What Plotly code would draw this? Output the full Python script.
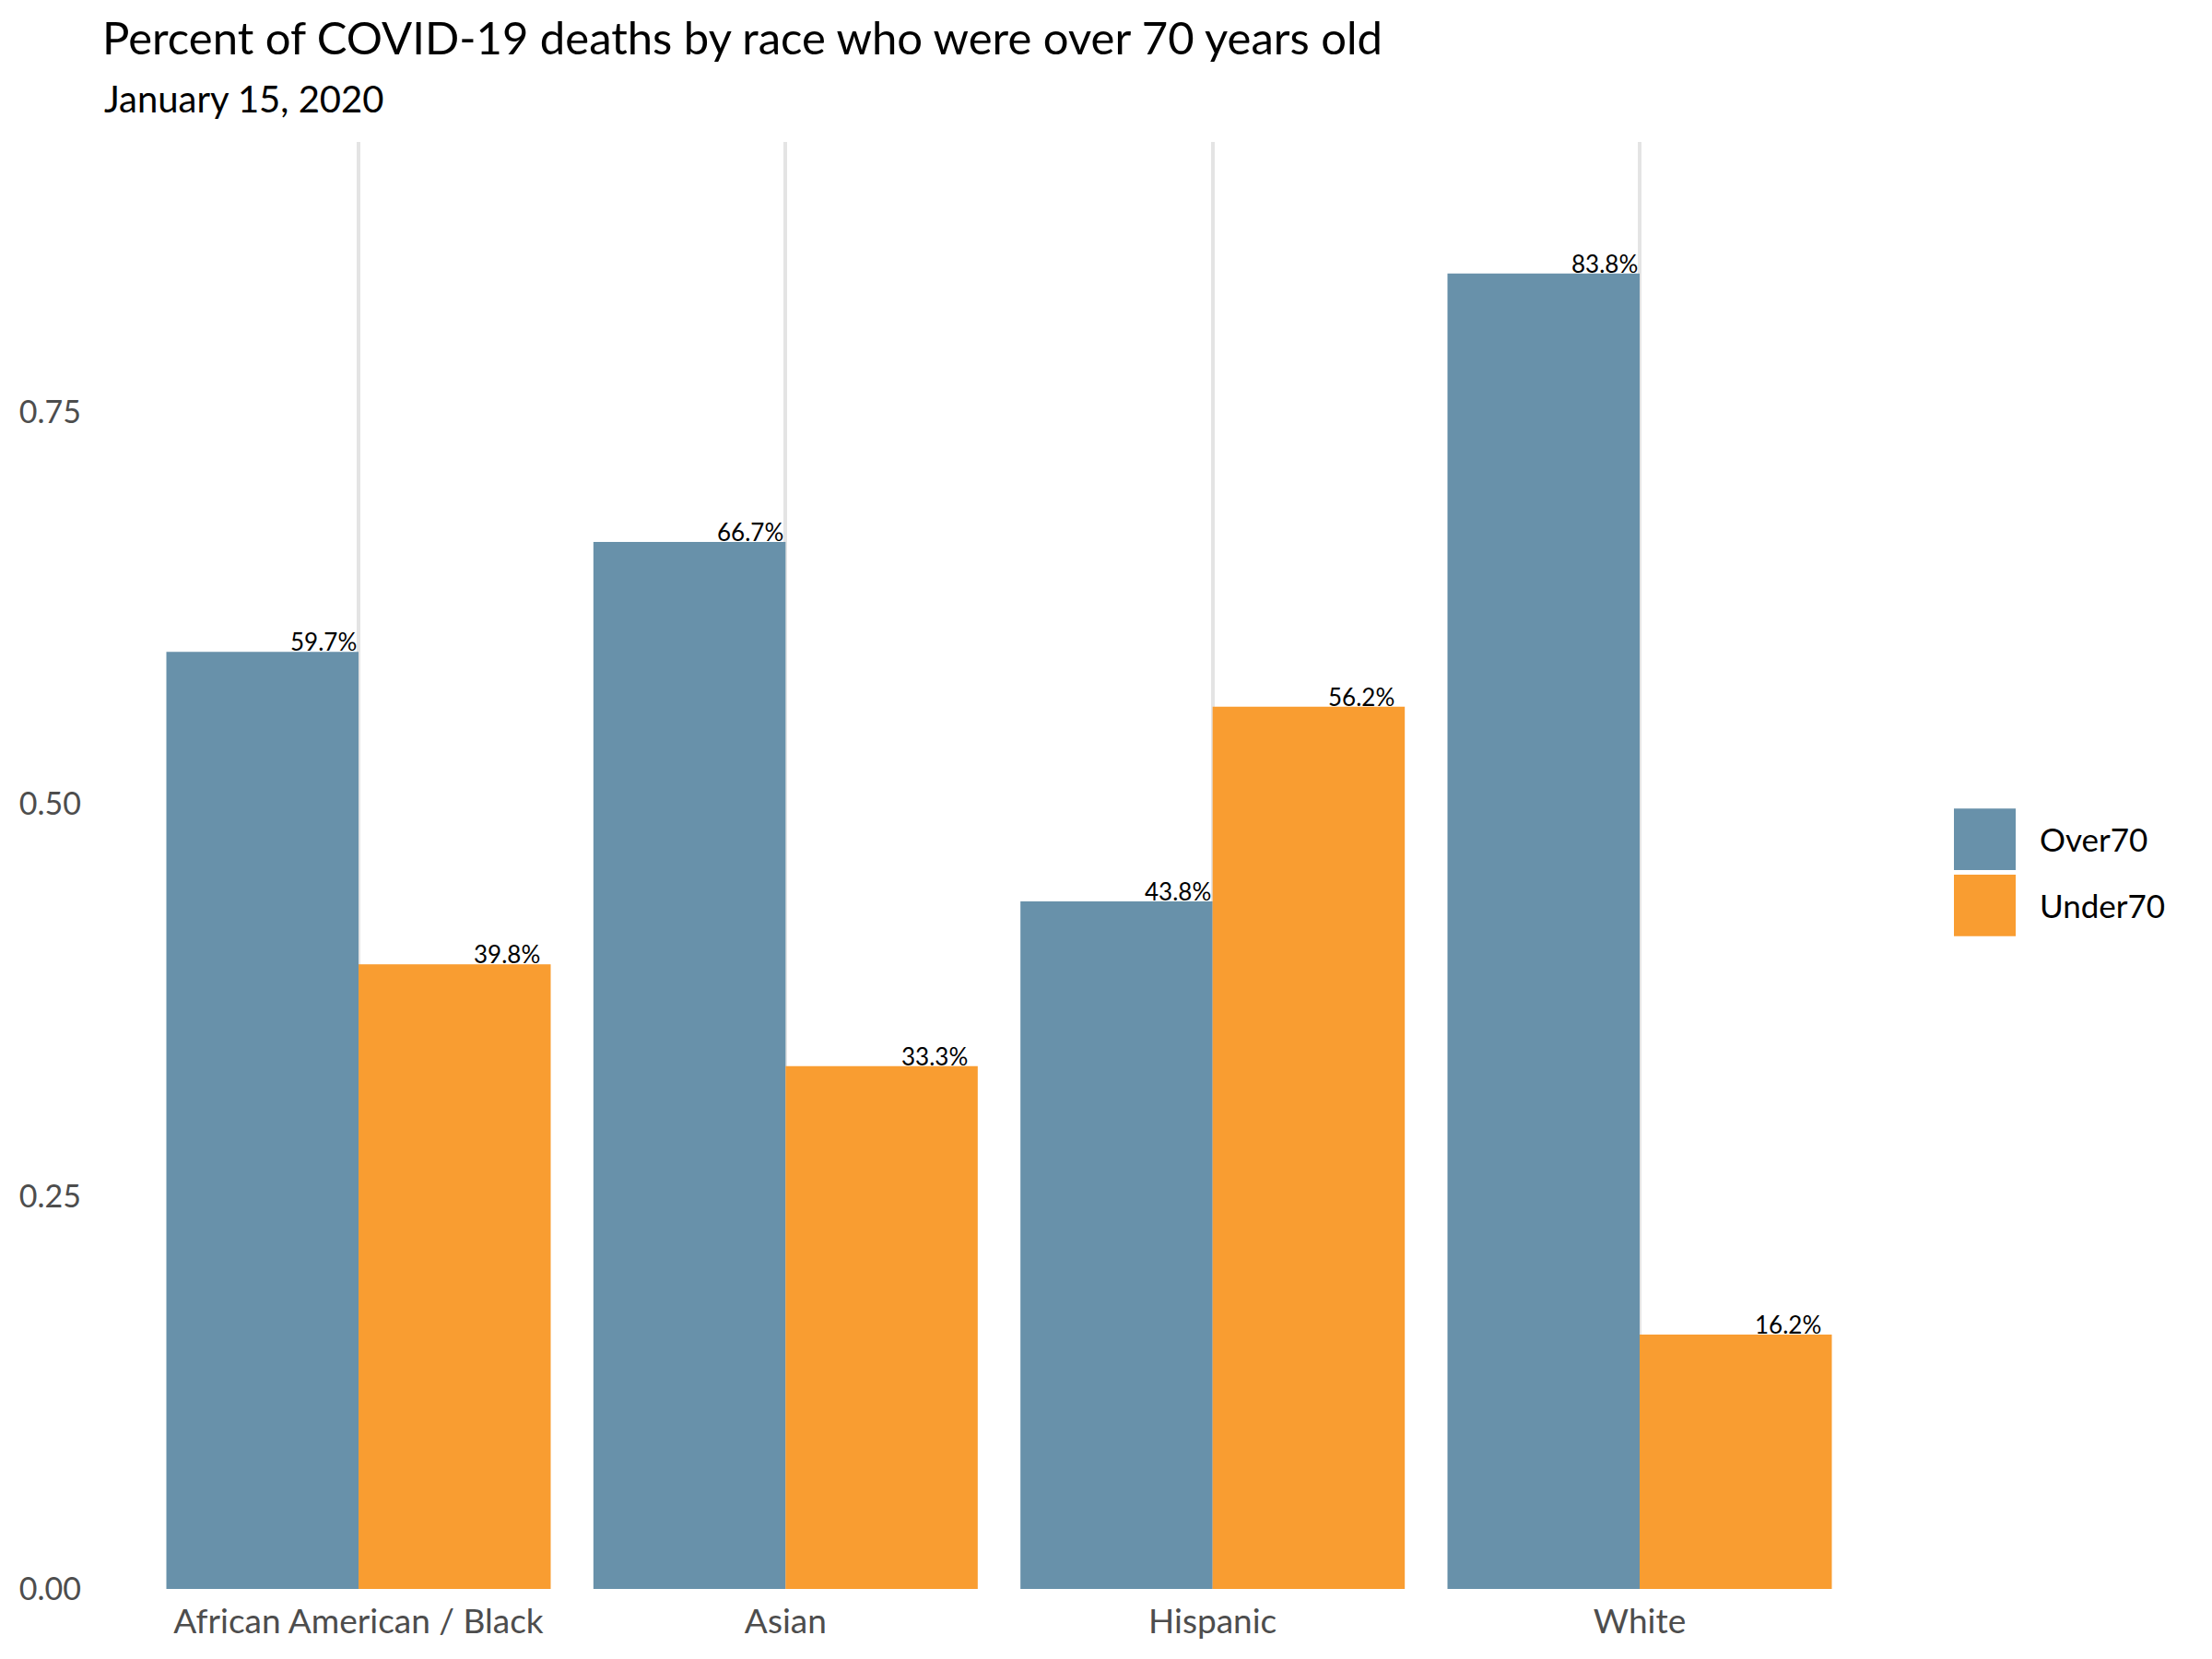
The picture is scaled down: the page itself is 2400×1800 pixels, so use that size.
import plotly.graph_objects as go

categories = ["African American / Black", "Asian", "Hispanic", "White"]
over70 = [0.597, 0.667, 0.438, 0.838]
under70 = [0.398, 0.333, 0.562, 0.162]
series_names = ["Over70", "Under70"]
series_colors = ["#6891AA", "#F99D31"]
y_ticks = [0.0, 0.25, 0.50, 0.75]

# page body has an 8px margin; figure coordinates are screen coordinates minus 8
OFF = 8
W, H = 2400 - 2 * OFF, 1800 - 2 * OFF
ML = 111 - OFF
MT = 154 - OFF
PLOT_R = 2057 - OFF
PLOT_B = 1730 - OFF
MR = W - PLOT_R
MB = H - PLOT_B
FONT = "Lato, Open Sans, sans-serif"

x_idx = list(range(len(categories)))
BAR_W = 0.45

fig = go.Figure()
fig.add_trace(go.Bar(x=x_idx, y=over70, name=series_names[0], width=BAR_W, offset=-BAR_W,
                     marker=dict(color=series_colors[0], line=dict(width=0)), hoverinfo="skip"))
fig.add_trace(go.Bar(x=x_idx, y=under70, name=series_names[1], width=BAR_W, offset=0,
                     marker=dict(color=series_colors[1], line=dict(width=0)), hoverinfo="skip"))

annotations = []
for i, v in enumerate(over70):
    annotations.append(dict(x=i, y=v, xref="x", yref="y", text=f"{v*100:.1f}%",
                            xanchor="right", yanchor="bottom", showarrow=False, yshift=-7,
                            font=dict(family=FONT, size=26, color="black")))
for i, v in enumerate(under70):
    annotations.append(dict(x=i + 0.43, y=v, xref="x", yref="y", text=f"{v*100:.1f}%",
                            xanchor="right", yanchor="bottom", showarrow=False, yshift=-7,
                            font=dict(family=FONT, size=26, color="black")))

plot_w = W - ML - MR
plot_h = H - MT - MB
def px_x(p):
    # p in screenshot pixels
    return (p - OFF - ML) / plot_w
def px_y(p):
    return (PLOT_B - (p - OFF)) / plot_h

# subtitle
annotations.append(dict(x=0, y=px_y(107), xref="paper", yref="paper", text="January 15, 2020",
                        xanchor="left", yanchor="middle", showarrow=False,
                        font=dict(family=FONT, size=40, color="black")))

# legend (drawn)
shapes = []
sw_top = [880, 952]
for k, name in enumerate(series_names):
    top = sw_top[k]
    shapes.append(dict(type="rect", xref="paper", yref="paper",
                       x0=px_x(2120), x1=px_x(2187), y0=px_y(top + 67), y1=px_y(top),
                       fillcolor=series_colors[k], line=dict(width=0)))
    annotations.append(dict(x=px_x(2211), y=px_y(top + 33), xref="paper", yref="paper", text=name,
                            xanchor="left", yanchor="middle", showarrow=False,
                            font=dict(family=FONT, size=35, color="black")))

fig.update_layout(
    width=W, height=H,
    margin=dict(l=ML, r=MR, t=MT, b=MB, pad=0),
    paper_bgcolor="white", plot_bgcolor="white",
    barmode="overlay",
    showlegend=False,
    title=dict(text="Percent of COVID-19 deaths by race who were over 70 years old",
               xref="container", yref="container", x=ML / W, xanchor="left",
               y=1 - (42 - OFF) / H, yanchor="middle",
               font=dict(family=FONT, size=49, color="black")),
    xaxis=dict(range=[-0.6, 3.6], tickmode="array", tickvals=x_idx, ticktext=categories,
               showgrid=True, gridcolor="#E4E4E4", gridwidth=4, zeroline=False, showline=False,
               ticks="", ticklabelstandoff=10,
               tickfont=dict(family=FONT, size=37, color="#4D4D4D")),
    yaxis=dict(range=[0, 0.9218], tickmode="array", tickvals=y_ticks,
               ticktext=[f"{t:.2f}" for t in y_ticks],
               showgrid=False, zeroline=False, showline=False, ticks="", ticklabelstandoff=22,
               tickfont=dict(family=FONT, size=34, color="#4D4D4D")),
    annotations=annotations,
    shapes=shapes,
)

fig.write_html("out.html")
